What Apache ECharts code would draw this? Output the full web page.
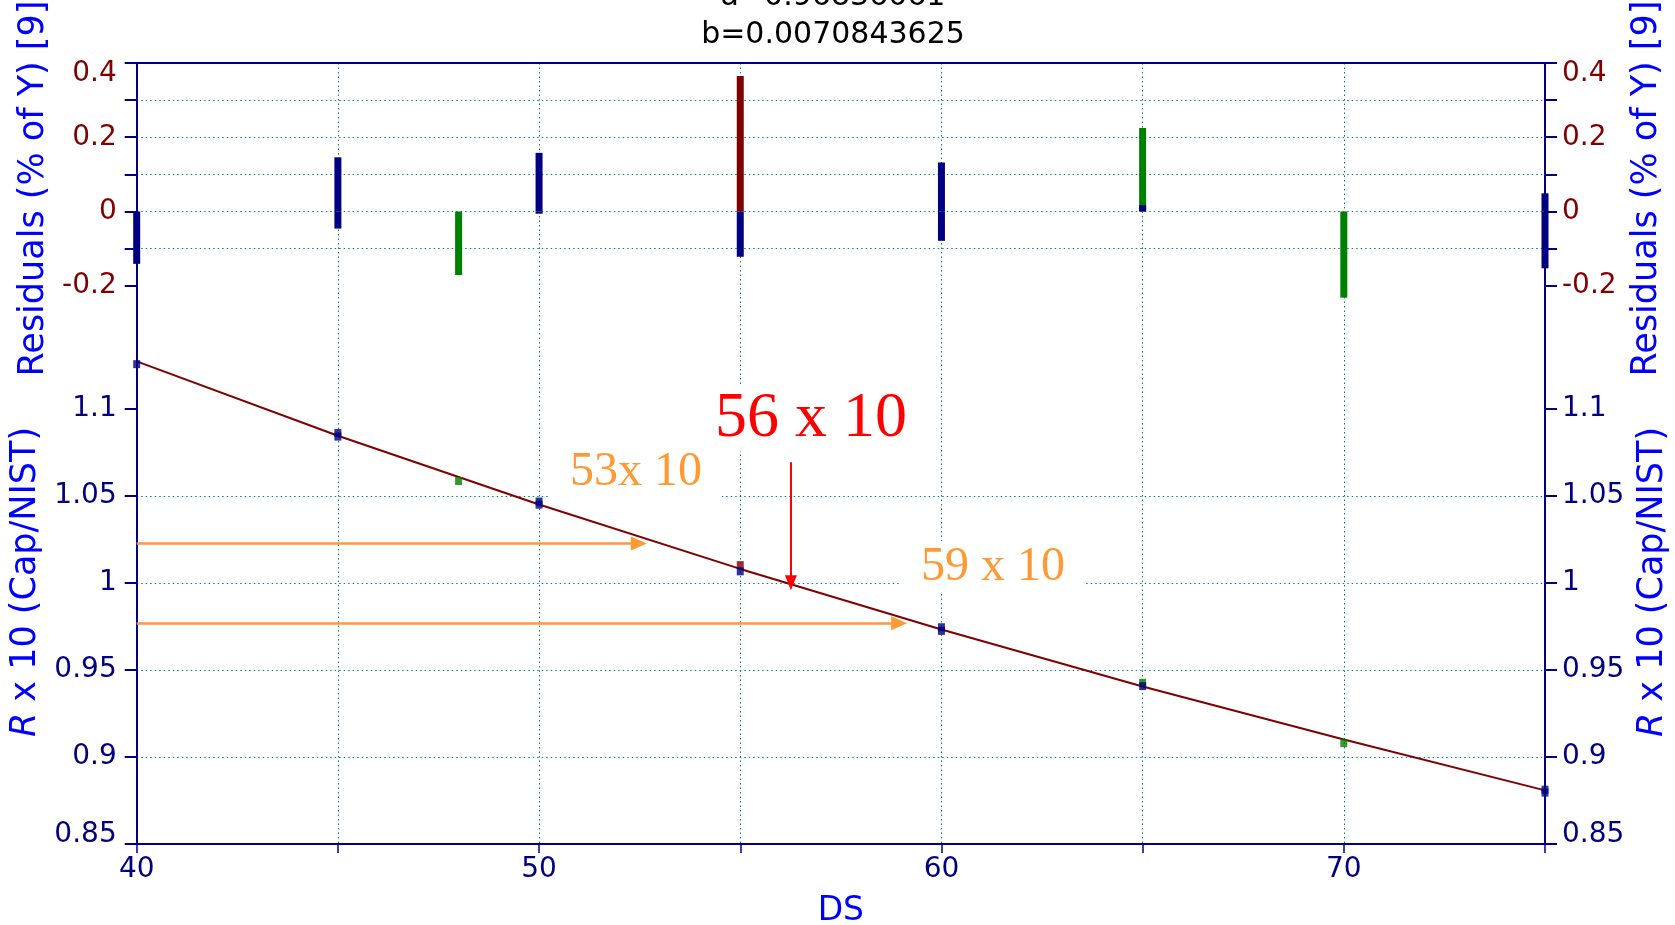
<!DOCTYPE html>
<html>
<head>
<meta charset="utf-8">
<script src="https://cdn.jsdelivr.net/npm/echarts@6/dist/echarts.min.js"></script>
<style>html,body{margin:0;padding:0;background:#fff;}#c{width:1675px;height:925px;}</style>
</head>
<body>
<div id="c"></div>
<script>
// ---- data ----
const xTickValues = [40, 45, 50, 55, 60, 65, 70, 75];
const xLabelValues = [40, 50, 60, 70];
const resTickValues = [-0.2, -0.1, 0, 0.1, 0.2, 0.3, 0.4];
const resLabelValues = [-0.2, 0, 0.2, 0.4];
const rTickValues = [0.85, 0.9, 0.95, 1, 1.05, 1.1];

const fitDS = [40, 45, 50, 55, 60, 65, 70, 75];
const fitR = [1.1272, 1.0845, 1.0450, 1.0080, 0.9732, 0.9405, 0.9100, 0.8808];

const navyPoints = [[40, 1.1256], [45, 1.0861], [45, 1.0840], [50, 1.0467], [50, 1.0449], [55, 1.0066], [60, 0.9745], [60, 0.9724], [65, 0.9407], [75, 0.8812], [75, 0.8795]];
const greenPoints = [[48, 1.0585], [65, 0.9426], [70, 0.9079]];
const redPoints = [[55, 1.0102]];

const navyRes1 = [[40, -0.141], [45, 0.146], [50, 0.158], [55, -0.122], [60, 0.132], [65, 0.017], [75, 0.049]];
const navyRes2 = [[45, -0.046], [50, -0.006], [60, -0.079], [75, -0.153]];
const greenRes = [[48, -0.171], [65, 0.225], [70, -0.232]];
const redRes = [[55, 0.365]];

const orangeArrowR = [1.0226, 0.9768];
const orangeArrowStartDS = [40, 40];
const orangeArrowEndDS = [52.48, 58.95];
const redArrowDS = 56.26;
const redArrowR = [1.0692, 1.0];

const titleLines = ['a=0.96836061', 'b=0.0070843625'];
const annotations = ['53x 10', '56 x 10', '59 x 10'];

// ---- styles ----
const NAVY = '#000080', GREEN = '#008000', DRED = '#800000', ORANGE = '#ff9933', RED = '#ff0000', TEAL = '#008080', BLUE = '#0000ff';
const FONT = 'DejaVu Sans';
const LFS = 28;
const gridLine = { show: true, showMinLine: false, showMaxLine: false, lineStyle: { color: TEAL, width: 1, type: [1.5, 3] } };
const axisLineS = { show: true, onZero: false, lineStyle: { color: NAVY, width: 2 } };

const chart = echarts.init(document.getElementById('c'), null, { renderer: 'canvas' });

function labelRich(color) {
  return {
    dn: { color: color, fontFamily: FONT, fontSize: LFS, padding: [22, 0, 0, 0] },
    up: { color: color, fontFamily: FONT, fontSize: LFS, padding: [0, 0, 18, 0] }
  };
}

function resAxis(pos) {
  return {
    type: 'value', gridIndex: 0, position: pos, min: -0.4, max: 0.4, interval: 0.1,
    axisLine: axisLineS,
    axisTick: { show: true, inside: false, length: 12, lineStyle: { color: NAVY, width: 2 }, customValues: resTickValues },
    axisLabel: { show: true, color: DRED, fontFamily: FONT, fontSize: LFS, margin: pos === 'left' ? 20 : 17, customValues: resLabelValues,
      formatter: v => (Math.abs(v - 0.4) < 1e-9 ? '{dn|' + v + '}' : String(v)), rich: labelRich(DRED) },
    splitLine: pos === 'left' ? gridLine : { show: false },
    name: 'Residuals (% of Y) [9]', nameLocation: 'middle', nameRotate: 90,
    nameGap: pos === 'left' ? 75 : 84,
    nameTextStyle: { color: BLUE, fontFamily: FONT, fontSize: 35, padding: [0, 0, 0, 46] }
  };
}
function rAxis(pos) {
  return {
    type: 'value', gridIndex: 1, position: pos, min: 0.85, max: 1.128, interval: 0.05,
    axisLine: axisLineS,
    axisTick: { show: true, inside: false, length: 12, lineStyle: { color: NAVY, width: 2 }, customValues: rTickValues },
    axisLabel: { show: true, color: NAVY, fontFamily: FONT, fontSize: LFS, margin: pos === 'left' ? 20 : 17, customValues: rTickValues,
      formatter: v => (Math.abs(v - 0.85) < 1e-9 ? '{up|' + v + '}' : String(v)), rich: labelRich(NAVY) },
    splitLine: pos === 'left' ? gridLine : { show: false },
    name: '{i|R} x 10 (Cap/NIST)', nameLocation: 'middle', nameRotate: 90,
    nameGap: pos === 'left' ? 75 : 84,
    nameTextStyle: { color: BLUE, fontFamily: FONT, fontSize: 35, padding: [0, 0, 0, 40],
      rich: { i: { fontStyle: 'italic', color: BLUE, fontFamily: FONT, fontSize: 35 } } }
  };
}

const markArrows = [];
for (let i = 0; i < orangeArrowR.length; i++) {
  markArrows.push([
    { coord: [orangeArrowStartDS[i], orangeArrowR[i]], lineStyle: { color: ORANGE, width: 2.5, type: 'solid' }, symbol: 'none' },
    { coord: [orangeArrowEndDS[i], orangeArrowR[i]], symbol: 'triangle', symbolSize: [14, 16] }
  ]);
}
markArrows.push([
  { coord: [redArrowDS, redArrowR[0]], lineStyle: { color: RED, width: 2, type: 'solid' }, symbol: 'none' },
  { coord: [redArrowDS, redArrowR[1]], symbol: 'triangle', symbolSize: [12, 15] }
]);

const option = {
  animation: false,
  backgroundColor: '#ffffff',
  grid: [
    { left: 136.7, right: 130, top: 63, height: 297, outerBoundsMode: 'none', containLabel: false },
    { left: 136.7, right: 130, top: 360, bottom: 81, outerBoundsMode: 'none', containLabel: false }
  ],
  xAxis: [
    { type: 'value', gridIndex: 0, position: 'top', min: 40, max: 75, interval: 5,
      axisLine: axisLineS, axisTick: { show: false }, axisLabel: { show: false }, splitLine: gridLine },
    { type: 'value', gridIndex: 1, position: 'bottom', min: 40, max: 75, interval: 5,
      axisLine: axisLineS,
      axisTick: { show: true, length: 9, lineStyle: { color: NAVY, width: 1.5 }, customValues: xTickValues },
      axisLabel: { color: NAVY, fontFamily: FONT, fontSize: LFS, margin: 12, customValues: xLabelValues },
      splitLine: gridLine,
      name: 'DS', nameLocation: 'middle', nameGap: 51,
      nameTextStyle: { color: BLUE, fontFamily: FONT, fontSize: 33 } }
  ],
  yAxis: [resAxis('left'), resAxis('right'), rAxis('left'), rAxis('right')],
  series: [
    { type: 'bar', xAxisIndex: 0, yAxisIndex: 0, data: greenRes, barWidth: 7, barGap: '-100%', itemStyle: { color: GREEN }, z: 3 },
    { type: 'bar', xAxisIndex: 0, yAxisIndex: 0, data: redRes, barWidth: 7, barGap: '-100%', itemStyle: { color: DRED }, z: 3 },
    { type: 'bar', xAxisIndex: 0, yAxisIndex: 0, data: navyRes1, barWidth: 7, barGap: '-100%', itemStyle: { color: NAVY }, z: 4 },
    { type: 'bar', xAxisIndex: 0, yAxisIndex: 0, data: navyRes2, barWidth: 7, barGap: '-100%', itemStyle: { color: NAVY }, z: 4 },
    { type: 'line', xAxisIndex: 1, yAxisIndex: 2, data: fitDS.map((d, i) => [d, fitR[i]]), showSymbol: false,
      lineStyle: { color: DRED, width: 2 }, itemStyle: { color: DRED }, z: 3,
      markLine: { silent: true, animation: false, label: { show: false }, emphasis: { disabled: true }, data: markArrows } },
    { type: 'scatter', xAxisIndex: 1, yAxisIndex: 2, data: greenPoints, symbol: 'rect', symbolSize: [7, 8], itemStyle: { color: GREEN }, z: 5 },
    { type: 'scatter', xAxisIndex: 1, yAxisIndex: 2, data: redPoints, symbol: 'rect', symbolSize: [7, 8], itemStyle: { color: DRED }, z: 5 },
    { type: 'scatter', xAxisIndex: 1, yAxisIndex: 2, data: navyPoints, symbol: 'rect', symbolSize: [7, 8], itemStyle: { color: NAVY }, z: 6 }
  ],
  graphic: [
    { type: 'text', x: 833, y: -3, z: 10, style: { text: titleLines[0], fill: '#000', font: '30px "DejaVu Sans"', align: 'center', verticalAlign: 'middle' } },
    { type: 'text', x: 833, y: 35, z: 10, style: { text: titleLines[1], fill: '#000', font: '30px "DejaVu Sans"', align: 'center', verticalAlign: 'middle' } },
    { type: 'text', x: 636, y: 472, z: 10, style: { text: annotations[0], fill: ORANGE, font: '48px "Liberation Serif"', align: 'center', verticalAlign: 'middle', backgroundColor: '#fff', padding: [2, 20, 2, 20] } },
    { type: 'text', x: 811, y: 419, z: 10, style: { text: annotations[1], fill: RED, font: '64px "Liberation Serif"', align: 'center', verticalAlign: 'middle', backgroundColor: '#fff', padding: [0, 20, 0, 20] } },
    { type: 'text', x: 993, y: 567, z: 10, style: { text: annotations[2], fill: ORANGE, font: '48px "Liberation Serif"', align: 'center', verticalAlign: 'middle', backgroundColor: '#fff', padding: [2, 20, 2, 20] } }
  ]
};
chart.setOption(option);
</script>
</body>
</html>
